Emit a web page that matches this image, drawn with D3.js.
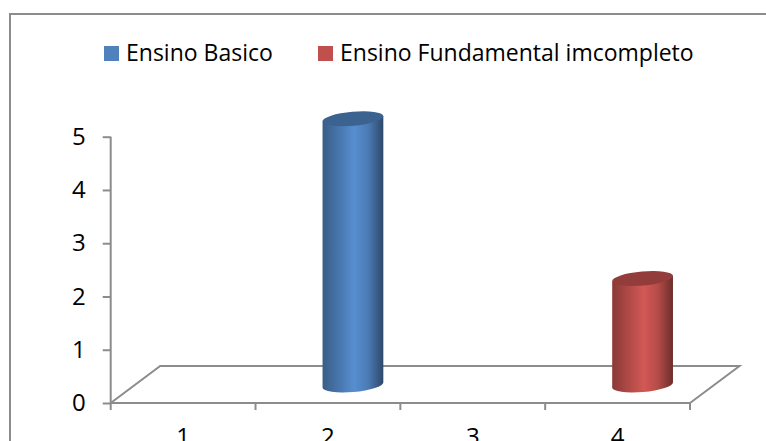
<!DOCTYPE html>
<html>
<head>
<meta charset="utf-8">
<script src="https://cdn.jsdelivr.net/npm/d3@7"></script>
<style>
  html, body { margin: 0; padding: 0; background: #fff; overflow: hidden; }
  svg { display: block; }
  text { font-family: "Open Sans", Lato, sans-serif; fill: #000; }
</style>
</head>
<body>
<svg id="chart" width="766" height="441"></svg>
<script>
const categories = ["1", "2", "3", "4"];
const seriesNames = ["Ensino Basico", "Ensino Fundamental imcompleto"];
const seriesColors = ["#4f81bd", "#c0504d"];
const seriesValues = [
  [0, 5, 0, 0],
  [0, 0, 0, 2]
];
const yTicks = [0, 1, 2, 3, 4, 5];

const svg = d3.select("#chart");
const width = 766, height = 441;

const frame = { x: 10, y: 14 };
const plot = { left: 110.7, right: 690, top: 136.7, bottom: 403 };
const depth = { dx: 49.5, dy: -37 };
const gridGrey = "#8c8c8c";

const x = d3.scaleBand().domain(categories).range([plot.left, plot.right]);
const y = d3.scaleLinear().domain([0, 5]).range([plot.bottom, plot.top]);

// Chart area border; the right and bottom sides fall outside the canvas
svg.append("path")
  .attr("d", `M${frame.x},${height} V${frame.y} H${width}`)
  .attr("fill", "none").attr("stroke", gridGrey).attr("stroke-width", 2);

// Cylinder shading: dark edges, bright centre band
const defs = svg.append("defs");
seriesColors.forEach((c, i) => {
  const base = d3.rgb(c);
  const g = defs.append("linearGradient").attr("id", `shade${i}`)
    .attr("x1", "0%").attr("x2", "100%").attr("y1", "0%").attr("y2", "0%");
  [[0, 0.72], [0.25, 0.9], [0.52, 1.1], [0.75, 0.95], [1, 0.56]].forEach(([o, k]) => {
    g.append("stop").attr("offset", o)
      .attr("stop-color", d3.rgb(base.r * k, base.g * k, base.b * k).formatHex());
  });
});

// Floor of the 3D plot
svg.append("path")
  .attr("d", d3.line()([
    [plot.left, plot.bottom],
    [plot.left + depth.dx, plot.bottom + depth.dy],
    [plot.right + depth.dx, plot.bottom + depth.dy],
    [plot.right, plot.bottom]
  ]))
  .attr("fill", "none").attr("stroke", gridGrey).attr("stroke-width", 2);

// Value axis
const yAxis = svg.append("g").attr("transform", `translate(${plot.left},0)`)
  .call(d3.axisLeft(y).tickValues(yTicks).tickSize(8).tickPadding(17).tickFormat(d3.format("d")));
// Category axis, labels sit low enough to run off the canvas
const xAxis = svg.append("g").attr("transform", `translate(0,${plot.bottom})`)
  .call(d3.axisBottom(x).tickSize(0).tickPadding(25));
svg.append("g").selectAll("line")
  .data(d3.range(categories.length + 1))
  .join("line")
  .attr("x1", i => plot.left + i * x.bandwidth())
  .attr("x2", i => plot.left + i * x.bandwidth())
  .attr("y1", plot.bottom).attr("y2", plot.bottom + 7)
  .attr("stroke", gridGrey).attr("stroke-width", 2);

[yAxis, xAxis].forEach(a => {
  a.selectAll("path.domain, .tick line").attr("stroke", gridGrey).attr("stroke-width", 2);
  a.selectAll("text").attr("font-size", 24).style("font-family", '"Open Sans", sans-serif').attr("fill", "#000");
});
yAxis.select("path.domain").attr("d", `M0,${plot.top}V${plot.bottom}`);
xAxis.select("path.domain").attr("d", `M${plot.left},0H${plot.right}`);
xAxis.selectAll("text").attr("dy", "0.71em");

// Cylinders: tilted ellipse caps follow the floor perspective
const rx = 30.5, ry = 7, tilt = -5;
const floorOffset = 18;
const depthShift = 25;
const bars = seriesValues.flatMap((vals, s) =>
  vals.map((v, i) => ({ v, s, cat: categories[i] })).filter(d => d.v > 0));

const barCentre = d => x(d.cat) + x.bandwidth() / 2 + depthShift;
const dxTilt = rx * Math.cos(tilt * Math.PI / 180);
const dyTilt = rx * Math.sin(tilt * Math.PI / 180);

const barG = svg.append("g").selectAll("g").data(bars).join("g")
  .attr("transform", d => `translate(${barCentre(d)},${plot.bottom - floorOffset})`);

barG.append("path")
  .attr("d", d => {
    const h = plot.bottom - y(d.v);
    return `M${-dxTilt},${-dyTilt} L${-dxTilt},${-dyTilt - h}` +
      `L${dxTilt},${dyTilt - h} L${dxTilt},${dyTilt}` +
      `A${rx},${ry} ${tilt} 0 1 ${-dxTilt},${-dyTilt}Z`;
  })
  .attr("fill", d => `url(#shade${d.s})`);

barG.append("ellipse")
  .attr("rx", rx).attr("ry", ry)
  .attr("transform", d => `translate(0,${y(d.v) - plot.bottom}) rotate(${tilt})`)
  .attr("fill", d => {
    const b = d3.rgb(seriesColors[d.s]);
    return d3.rgb(b.r * 0.76, b.g * 0.76, b.b * 0.76).formatHex();
  });

// Legend
const legendItems = [{ sw: 104, tx: 126 }, { sw: 318, tx: 340 }];
const legend = svg.append("g").selectAll("g").data(seriesNames).join("g");
legend.append("rect")
  .attr("x", (d, i) => legendItems[i].sw).attr("y", 46)
  .attr("width", 15).attr("height", 15)
  .attr("fill", (d, i) => seriesColors[i]);
legend.append("text")
  .attr("x", (d, i) => legendItems[i].tx).attr("y", 61)
  .attr("font-size", 23)
  .text(d => d);
</script>
</body>
</html>
